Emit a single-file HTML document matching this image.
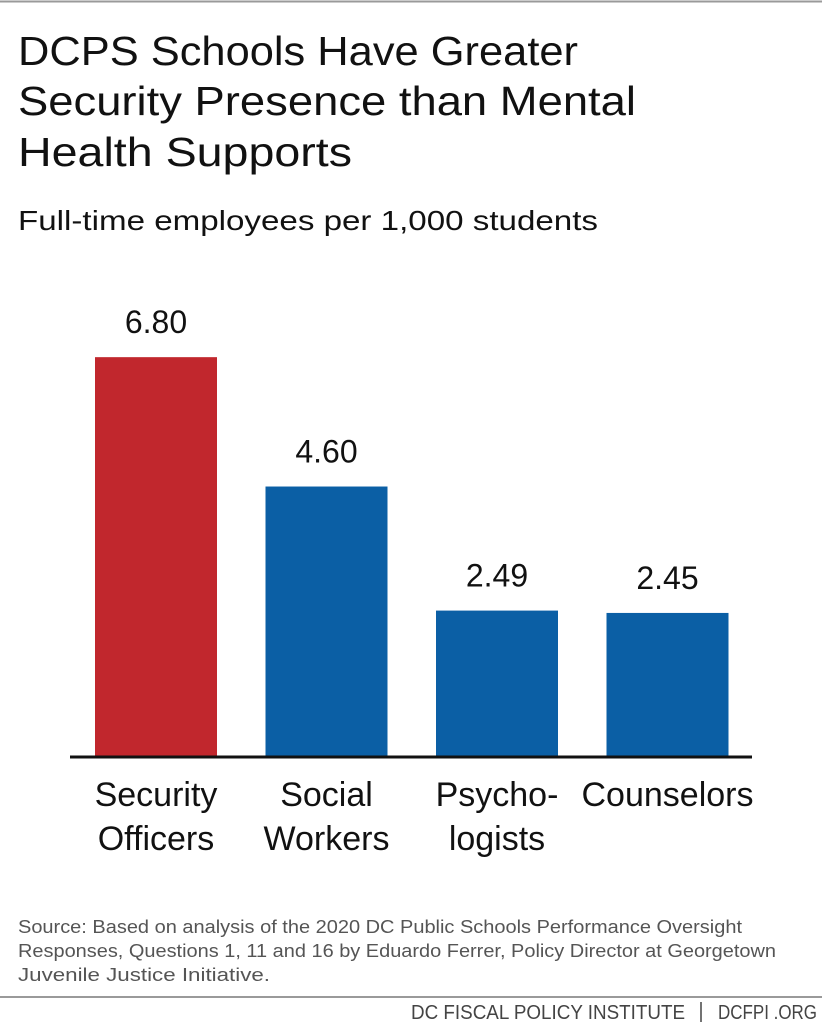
<!DOCTYPE html>
<html><head><meta charset="utf-8"><style>
html,body{margin:0;padding:0;background:#fff;}
svg{display:block;font-family:"Liberation Sans",sans-serif;}
</style></head><body>
<svg width="822" height="1024" viewBox="0 0 822 1024">
<line x1="0" y1="1.5" x2="822" y2="1.5" stroke="#9a9a9a" stroke-width="2"/>
<g fill="#111" font-size="41">
<text x="18" y="65" textLength="560" lengthAdjust="spacingAndGlyphs">DCPS Schools Have Greater</text>
<text x="18" y="115" textLength="618" lengthAdjust="spacingAndGlyphs">Security Presence than Mental</text>
<text x="18" y="166" textLength="334" lengthAdjust="spacingAndGlyphs">Health Supports</text>
</g>
<text x="18" y="230" font-size="28" fill="#111" textLength="580" lengthAdjust="spacingAndGlyphs">Full-time employees per 1,000 students</text>
<g id="bars"></g>
<line x1="70" y1="757" x2="752" y2="757" stroke="#111" stroke-width="3"/>
<g fill="#555" font-size="18">
<text x="18" y="933" textLength="724" lengthAdjust="spacingAndGlyphs">Source: Based on analysis of the 2020 DC Public Schools Performance Oversight</text>
<text x="18" y="957" textLength="758" lengthAdjust="spacingAndGlyphs">Responses, Questions 1, 11 and 16 by Eduardo Ferrer, Policy Director at Georgetown</text>
<text x="18" y="981" textLength="252" lengthAdjust="spacingAndGlyphs">Juvenile Justice Initiative.</text>
</g>
<line x1="0" y1="997" x2="822" y2="997" stroke="#9a9a9a" stroke-width="2"/>
<g font-size="20" fill="#444">
<text x="411" y="1019" textLength="274" lengthAdjust="spacingAndGlyphs">DC FISCAL POLICY INSTITUTE</text>
<line x1="701" y1="1002" x2="701" y2="1022" stroke="#444" stroke-width="1.5"/>
<text x="718" y="1019" textLength="99" lengthAdjust="spacingAndGlyphs">DCFPI .ORG</text>
</g>
</svg>
<script>
const categories1 = ["Security", "Social", "Psycho-", "Counselors"];
const categories2 = ["Officers", "Workers", "logists", ""];
const values = [6.80, 4.60, 2.49, 2.45];
const labels = ["6.80", "4.60", "2.49", "2.45"];
const colors = ["#c1272d", "#0b5fa5", "#0b5fa5", "#0b5fa5"];
const NS = "http://www.w3.org/2000/svg";
const baseY = 757, pxPerUnit = 58.8;
function yScale(v){ return baseY - v * pxPerUnit; }
function xCenter(i){ return 156 + i * 170.5; }
const g = document.getElementById("bars");
values.forEach((v, i) => {
  const cx = xCenter(i), w = 122;
  const r = document.createElementNS(NS, "rect");
  r.setAttribute("x", cx - w/2); r.setAttribute("y", yScale(v));
  r.setAttribute("width", w); r.setAttribute("height", baseY - yScale(v));
  r.setAttribute("fill", colors[i]);
  
  
  g.appendChild(r);
  const t = document.createElementNS(NS, "text");
  t.setAttribute("x", cx); t.setAttribute("y", yScale(v) - 24);
  t.setAttribute("text-anchor", "middle"); t.setAttribute("font-size", "32"); t.setAttribute("fill", "#111");
  t.textContent = labels[i];
  
  
  g.appendChild(t);
  [categories1[i], categories2[i]].forEach((s, k) => {
    if (!s) return;
    const c = document.createElementNS(NS, "text");
    c.setAttribute("x", cx); c.setAttribute("y", 806 + k * 44);
    c.setAttribute("text-anchor", "middle"); c.setAttribute("font-size", "34"); c.setAttribute("fill", "#111");
    c.textContent = s;
    
    
    g.appendChild(c);
  });
});
</script>
</body></html>
